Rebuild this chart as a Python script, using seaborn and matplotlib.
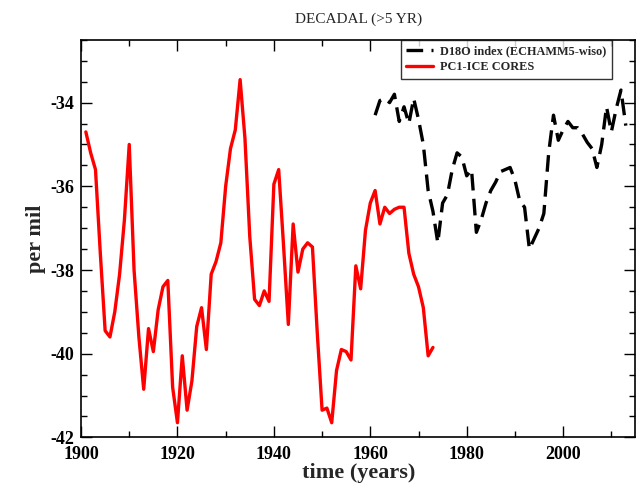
import numpy as np
import pandas as pd
import matplotlib
matplotlib.use("Agg")
import matplotlib.pyplot as plt
from matplotlib.ticker import MultipleLocator
import seaborn as sns

# PC1 ice cores, annual
ice_years = list(range(1901, 1974))
ice_values = [
    -34.7, -35.2, -35.6, -37.6, -39.45, -39.6, -39.0, -38.1, -36.8, -35.0,
    -38.0, -39.6, -40.85, -39.4, -39.95, -38.95, -38.4, -38.25, -40.8, -41.65,
    -40.05, -41.35, -40.65, -39.35, -38.9, -39.9, -38.1, -37.8, -37.35, -36.0,
    -35.1, -34.65, -33.45, -34.85, -37.2, -38.7, -38.85, -38.5, -38.75, -35.95,
    -35.6, -37.4, -39.3, -36.9, -38.05, -37.5, -37.35, -37.45, -39.5, -41.35,
    -41.3, -41.65, -40.4, -39.9, -39.95, -40.15, -37.9, -38.45, -37.05, -36.4,
    -36.1, -36.9, -36.5, -36.65, -36.55, -36.5, -36.5, -37.6, -38.1, -38.4,
    -38.9, -40.05, -39.85,
]

# D18O index (ECHAMM5-wiso), annual
model_years = list(range(1961, 2014))
model_values = [
    -34.3, -33.95, -33.9, -34.0, -33.8, -34.45, -34.1, -34.5, -33.9, -34.4,
    -35.0, -36.1, -36.6, -37.35, -36.4, -36.2, -35.6, -35.2, -35.3, -35.75,
    -35.6, -37.1, -36.8, -36.4, -36.1, -35.9, -35.65, -35.6, -35.55, -35.85,
    -36.35, -36.5, -37.5, -37.25, -37.0, -36.65, -35.2, -34.3, -34.9, -34.65,
    -34.45, -34.6, -34.6, -34.75, -34.95, -35.1, -35.55, -35.0, -34.1, -34.7,
    -34.15, -33.7, -34.55,
]

ice = pd.DataFrame({"year": ice_years, "value": ice_values})
model = pd.DataFrame({"year": model_years, "value": model_values})

sns.set_style("ticks")
plt.rcParams["font.family"] = ["Liberation Serif", "DejaVu Serif"]
plt.rcParams["axes.unicode_minus"] = False

fig = plt.figure(figsize=(6.38, 4.92), dpi=100)
ax = fig.add_axes([0.127, 0.111, 0.869, 0.808])

sns.lineplot(data=model, x="year", y="value", ax=ax, color="black",
             linewidth=2.4, linestyle=(0, (5, 2.5)), label="D18O index (ECHAMM5-wiso)")
sns.lineplot(data=ice, x="year", y="value", ax=ax, color="#ff0000",
             linewidth=2.4, label="PC1-ICE CORES")

ax.set_xlim(1900, 2015)
ax.set_ylim(-42, -32.5)
ax.xaxis.set_major_locator(MultipleLocator(20))
ax.xaxis.set_minor_locator(MultipleLocator(10))
ax.yaxis.set_major_locator(MultipleLocator(2))
ax.yaxis.set_minor_locator(MultipleLocator(0.5))
ax.tick_params(which="both", direction="in", top=True, right=True, width=1.0, colors="black")
ax.tick_params(which="major", length=8, labelsize=13)
ax.tick_params(axis="x", which="major", pad=6)
ax.tick_params(axis="y", which="major", pad=5)
ax.tick_params(which="minor", length=4.5)
for lbl in ax.get_xticklabels() + ax.get_yticklabels():
    lbl.set_fontweight("bold")
for s in ax.spines.values():
    s.set_linewidth(1.2)
    s.set_color("black")

ax.set_xlabel("time (years)", fontsize=16, fontweight="bold", labelpad=0)
ax.set_ylabel("per mil", fontsize=16, fontweight="bold", labelpad=3)
ax.set_title("DECADAL (>5 YR)", fontsize=11, pad=12)

leg = ax.legend(loc="upper right", bbox_to_anchor=(0.958, 1.0), borderaxespad=0,
                frameon=True, fancybox=False, shadow=False, handlelength=2.2,
                handletextpad=0.6, borderpad=0.45, labelspacing=0.3,
                prop={"size": 8.8, "weight": "bold"})
leg.get_frame().set_edgecolor("black")
leg.get_frame().set_linewidth(1.0)

fig.savefig("out.png", dpi=100)
